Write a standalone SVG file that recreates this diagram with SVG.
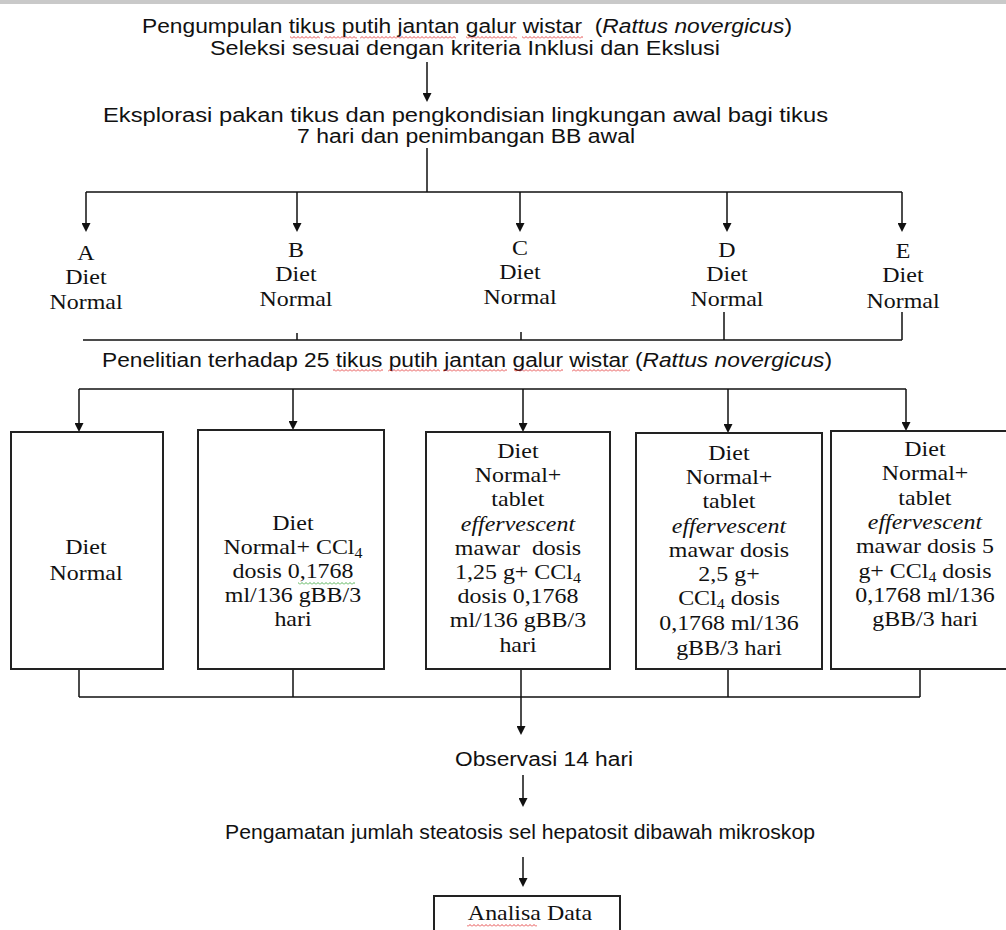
<svg xmlns="http://www.w3.org/2000/svg" width="1006" height="930" viewBox="0 0 1006 930">
<defs>
<marker id="ah" viewBox="0 0 10 10" refX="5.6" refY="5" markerWidth="9" markerHeight="9" markerUnits="userSpaceOnUse" orient="auto"><path d="M0,0 L10,5 L0,10 z" fill="#111"/></marker>
<pattern id="wr" patternUnits="userSpaceOnUse" width="4" height="3"><path d="M0,2.5 L2,0.5 L4,2.5" fill="none" stroke="#e02020" stroke-width="0.8"/></pattern>
<pattern id="wg" patternUnits="userSpaceOnUse" width="4" height="3"><path d="M0,2.5 L2,0.5 L4,2.5" fill="none" stroke="#2a9d2a" stroke-width="0.8"/></pattern>
</defs>
<style>
.ln{fill:none;stroke:#111;stroke-width:1.5}
.arw{fill:none;stroke:#111;stroke-width:1.5;marker-end:url(#ah)}
.bx{fill:#fff;stroke:#222;stroke-width:2}
.sa{font-family:"Liberation Sans",Arial,sans-serif;font-size:19.5px;fill:#111}
.tn{font-family:"Liberation Serif","Times New Roman",serif;font-size:21px;fill:#111;text-anchor:middle;transform-box:fill-box;transform-origin:center;transform:scaleX(1.14)}
.it{font-style:italic}
.sub{font-size:14px}
.sqr{fill:url(#wr)}
.sqg{fill:url(#wg)}
</style>
<rect x="0" y="0" width="1006" height="4" fill="#c9c9c9"/>

<g id="connectors">
<path class="arw" d="M427,62 V98"/>
<path class="ln" d="M427,148 V192 M86,192 H902"/>
<path class="arw" d="M86,192 V228"/>
<path class="arw" d="M297,192 V228"/>
<path class="arw" d="M520,192 V228"/>
<path class="arw" d="M727,192 V228"/>
<path class="arw" d="M902,192 V228"/>
<path class="ln" d="M83,340 H902 M297,333 V340 M521,332 V340 M724,312 V340 M902,312 V340"/>
<path class="ln" d="M79,389 H906"/>
<path class="arw" d="M79,389 V428"/>
<path class="arw" d="M293,389 V426"/>
<path class="arw" d="M523,389 V428"/>
<path class="arw" d="M728,389 V429"/>
<path class="arw" d="M906,389 V427"/>
<path class="ln" d="M79,669 V697 M293,669 V697 M728,669 V697 M920,669 V697 M79,697 H920"/>
<path class="arw" d="M521,669 V731"/>
<path class="arw" d="M523,775 V803"/>
<path class="arw" d="M523,857 V883"/>
</g>

<g id="n-start">
<text class="sa" x="142" y="33" textLength="650" lengthAdjust="spacingAndGlyphs">Pengumpulan tikus putih jantan galur wistar&#160; (<tspan class="it">Rattus novergicus</tspan>)</text>
<text class="sa" x="210" y="55" textLength="510" lengthAdjust="spacingAndGlyphs">Seleksi sesuai dengan kriteria Inklusi dan Ekslusi</text>
<rect class="sqr" x="290" y="36" width="30" height="3"/>
<rect class="sqr" x="324" y="36" width="33" height="3"/>
<rect class="sqr" x="360" y="36" width="96" height="3"/>
<rect class="sqr" x="466" y="36" width="51" height="3"/>
<rect class="sqr" x="522" y="36" width="61" height="3"/>
</g>

<g id="n-explore">
<text class="sa" x="103" y="122" textLength="725" lengthAdjust="spacingAndGlyphs">Eksplorasi pakan tikus dan pengkondisian lingkungan awal bagi tikus</text>
<text class="sa" x="297" y="143" textLength="338" lengthAdjust="spacingAndGlyphs">7 hari dan penimbangan BB awal</text>
</g>

<g id="n-A">
<text class="tn" x="86" y="260">A</text>
<text class="tn" x="86" y="284">Diet</text>
<text class="tn" x="86" y="309">Normal</text>
</g>
<g id="n-B">
<text class="tn" x="296" y="257">B</text>
<text class="tn" x="296" y="281">Diet</text>
<text class="tn" x="296" y="306">Normal</text>
</g>
<g id="n-C">
<text class="tn" x="520" y="255">C</text>
<text class="tn" x="520" y="279">Diet</text>
<text class="tn" x="520" y="304">Normal</text>
</g>
<g id="n-D">
<text class="tn" x="727" y="257">D</text>
<text class="tn" x="727" y="281">Diet</text>
<text class="tn" x="727" y="306">Normal</text>
</g>
<g id="n-E">
<text class="tn" x="903" y="258">E</text>
<text class="tn" x="903" y="282">Diet</text>
<text class="tn" x="903" y="308">Normal</text>
</g>

<g id="n-research">
<text class="sa" x="102" y="367" textLength="730" lengthAdjust="spacingAndGlyphs">Penelitian terhadap 25 tikus putih jantan galur wistar (<tspan class="it">Rattus novergicus</tspan>)</text>
<rect class="sqr" x="333" y="369" width="50" height="3"/>
<rect class="sqr" x="388" y="369" width="52" height="3"/>
<rect class="sqr" x="443" y="369" width="64" height="3"/>
<rect class="sqr" x="514" y="369" width="49" height="3"/>
<rect class="sqr" x="572" y="369" width="58" height="3"/>
</g>

<g id="box1">
<rect class="bx" x="11" y="432" width="152" height="237"/>
<text class="tn" x="86" y="554">Diet</text>
<text class="tn" x="86" y="580">Normal</text>
</g>

<g id="box2">
<rect class="bx" x="198" y="430" width="186" height="239"/>
<text class="tn" x="293" y="530">Diet</text>
<text class="tn" x="293" y="554">Normal+ CCl<tspan class="sub" dy="4">4</tspan></text>
<text class="tn" x="293" y="578">dosis 0,1768</text>
<text class="tn" x="293" y="602">ml/136 gBB/3</text>
<text class="tn" x="293" y="626">hari</text>
<rect class="sqg" x="298" y="582" width="57" height="3"/>
</g>

<g id="box3">
<rect class="bx" x="426" y="432" width="184" height="237"/>
<text class="tn" x="518" y="458">Diet</text>
<text class="tn" x="518" y="482">Normal+</text>
<text class="tn" x="518" y="506">tablet</text>
<text class="tn it" x="518" y="531">effervescent</text>
<text class="tn" x="518" y="555">mawar&#160; dosis</text>
<text class="tn" x="518" y="579">1,25 g+ CCl<tspan class="sub" dy="4">4</tspan></text>
<text class="tn" x="518" y="603">dosis 0,1768</text>
<text class="tn" x="518" y="627">ml/136 gBB/3</text>
<text class="tn" x="518" y="652">hari</text>
</g>

<g id="box4">
<rect class="bx" x="636" y="433" width="186" height="236"/>
<text class="tn" x="729" y="460">Diet</text>
<text class="tn" x="729" y="484">Normal+</text>
<text class="tn" x="729" y="508">tablet</text>
<text class="tn it" x="729" y="533">effervescent</text>
<text class="tn" x="729" y="557">mawar dosis</text>
<text class="tn" x="729" y="581">2,5 g+</text>
<text class="tn" x="729" y="605">CCl<tspan class="sub" dy="4">4</tspan><tspan dy="-4"> dosis</tspan></text>
<text class="tn" x="729" y="630">0,1768 ml/136</text>
<text class="tn" x="729" y="655">gBB/3 hari</text>
</g>

<g id="box5">
<rect class="bx" x="831" y="431" width="188" height="238"/>
<text class="tn" x="925" y="456">Diet</text>
<text class="tn" x="925" y="480">Normal+</text>
<text class="tn" x="925" y="505">tablet</text>
<text class="tn it" x="925" y="529">effervescent</text>
<text class="tn" x="925" y="553">mawar dosis 5</text>
<text class="tn" x="925" y="578">g+ CCl<tspan class="sub" dy="4">4</tspan><tspan dy="-4"> dosis</tspan></text>
<text class="tn" x="925" y="602">0,1768 ml/136</text>
<text class="tn" x="925" y="626">gBB/3 hari</text>
</g>

<g id="n-observasi">
<text class="sa" x="455" y="766" textLength="178" lengthAdjust="spacingAndGlyphs" fill="#23234a">Observasi 14 hari</text>
</g>

<g id="n-pengamatan">
<text class="sa" x="225" y="839" textLength="590" lengthAdjust="spacingAndGlyphs" style="font-size:21px">Pengamatan jumlah steatosis sel hepatosit dibawah mikroskop</text>
</g>

<g id="n-analisa">
<rect class="bx" x="434" y="896" width="186" height="60"/>
<text class="tn" x="530" y="920">Analisa Data</text>
<rect class="sqr" x="467" y="924" width="70" height="3"/>
</g>
</svg>
